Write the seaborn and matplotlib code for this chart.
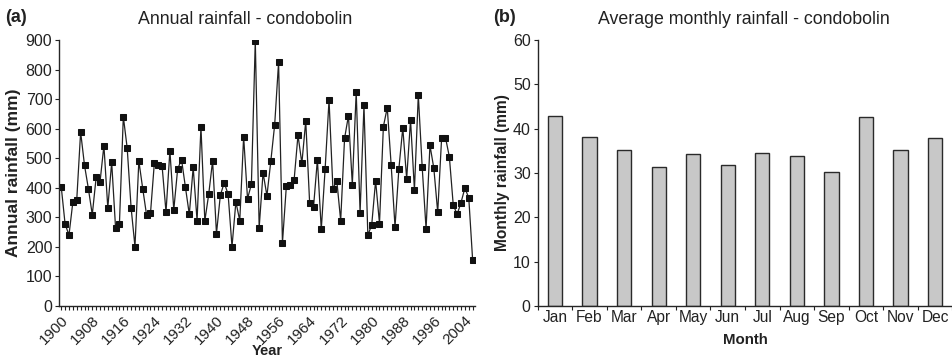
import numpy as np
import pandas as pd
import matplotlib
matplotlib.use("Agg")
import matplotlib.pyplot as plt
from matplotlib.ticker import MultipleLocator, FixedLocator
import seaborn as sns

# ---- data ----
years = list(range(1900, 2007))
annual_rain = [
    404, 277, 240, 352, 359, 589, 476, 397, 309, 435,   # 1900-1909
    420, 543, 332, 486, 265, 279, 641, 534, 333, 201,   # 1910-1919
    491, 397, 307, 314, 485, 476, 472, 318, 526, 325,   # 1920-1929
    464, 495, 402, 310, 469, 289, 606, 288, 378, 491,   # 1930-1939
    245, 375, 417, 378, 201, 352, 289, 573, 363, 412,   # 1940-1949
    898, 265, 451, 373, 490, 614, 825, 214, 405, 411,   # 1950-1959
    426, 578, 483, 626, 349, 334, 495, 259, 465, 697,   # 1960-1969
    397, 424, 289, 567, 644, 411, 724, 316, 679, 239,   # 1970-1979
    275, 424, 279, 607, 671, 478, 268, 465, 603, 431,   # 1980-1989
    629, 393, 714, 470, 261, 544, 466, 317, 567, 570,   # 1990-1999
    505, 342, 310, 350, 399, 366, 155,                  # 2000-2006
]
year_tick_labels = list(range(1900, 2005, 8))

months = ["Jan", "Feb", "Mar", "Apr", "May", "Jun",
          "Jul", "Aug", "Sep", "Oct", "Nov", "Dec"]
monthly_rain = [42.8, 38.1, 35.3, 31.3, 34.2, 31.8,
                34.4, 33.9, 30.2, 42.6, 35.3, 37.8]

# ---- style ----
sns.set_style("ticks")
plt.rcParams["font.family"] = ["Liberation Sans", "DejaVu Sans"]
plt.rcParams["axes.linewidth"] = 1.0
plt.rcParams["xtick.color"] = "#222222"
plt.rcParams["ytick.color"] = "#222222"
plt.rcParams["text.color"] = "#222222"
plt.rcParams["axes.labelcolor"] = "#222222"

W, H = 953, 362
fig = plt.figure(figsize=(W / 100, H / 100), dpi=100)
ax1 = fig.add_axes([0.0622, 0.1547, 0.4362, 0.7348])
ax2 = fig.add_axes([0.5642, 0.1547, 0.4352, 0.7348])

# ---- panel (a) ----
df_a = pd.DataFrame({"Year": years, "Rain": annual_rain})
sns.lineplot(data=df_a, x="Year", y="Rain", ax=ax1, color="#222222",
             linewidth=0.9, marker="s", markersize=4.2,
             markeredgecolor="#111111", markerfacecolor="#111111")
ax1.set_xlim(1899.5, 2006.6)
ax1.set_ylim(0, 900)
ax1.yaxis.set_major_locator(MultipleLocator(100))
ax1.xaxis.set_major_locator(FixedLocator(year_tick_labels))
ax1.xaxis.set_minor_locator(MultipleLocator(1))
ax1.set_xticklabels([str(y) for y in year_tick_labels], rotation=45,
                    ha="right", rotation_mode="anchor", fontsize=11)
ax1.tick_params(axis="x", which="both", direction="out", length=3, width=0.8, pad=2)
ax1.tick_params(axis="y", which="major", direction="out", length=3, width=0.8,
                labelsize=11.5, pad=2)
ax1.set_xlabel("Year", fontsize=10.5, fontweight="bold", labelpad=-2)
ax1.set_ylabel("Annual rainfall (mm)", fontsize=12.5, fontweight="bold", labelpad=3)
sns.despine(ax=ax1)
fig.text(245 / W, 1 - 19 / H, "Annual rainfall - condobolin", fontsize=12.8,
         ha="center", va="center")
fig.text(5 / W, 1 - 18 / H, "(a)", fontsize=13, fontweight="bold", va="center")

# ---- panel (b) ----
df_b = pd.DataFrame({"Month": months, "Rain": monthly_rain})
sns.barplot(data=df_b, x="Month", y="Rain", ax=ax2, color="#c8c8c8",
            width=0.41, edgecolor="#2a2a2a", linewidth=1.0, saturation=1)
ax2.set_xlim(-0.5, 11.5)
ax2.set_ylim(0, 60)
ax2.yaxis.set_major_locator(MultipleLocator(10))
ax2.xaxis.set_minor_locator(FixedLocator(np.arange(-0.5, 12, 1)))
ax2.tick_params(axis="x", which="major", length=0, labelsize=11.2, pad=3)
ax2.tick_params(axis="x", which="minor", direction="out", length=3, width=0.8)
ax2.tick_params(axis="y", direction="out", length=3, width=0.8, labelsize=11.5, pad=2)
ax2.set_xlabel("Month", fontsize=10.8, fontweight="bold", labelpad=6)
ax2.set_ylabel("Monthly rainfall (mm)", fontsize=11.2, fontweight="bold", labelpad=2)
sns.despine(ax=ax2)
fig.text(744 / W, 1 - 19 / H, "Average monthly rainfall - condobolin",
         fontsize=12.8, ha="center", va="center")
fig.text(493 / W, 1 - 18 / H, "(b)", fontsize=13, fontweight="bold", va="center")

fig.savefig("out.png", dpi=100)
